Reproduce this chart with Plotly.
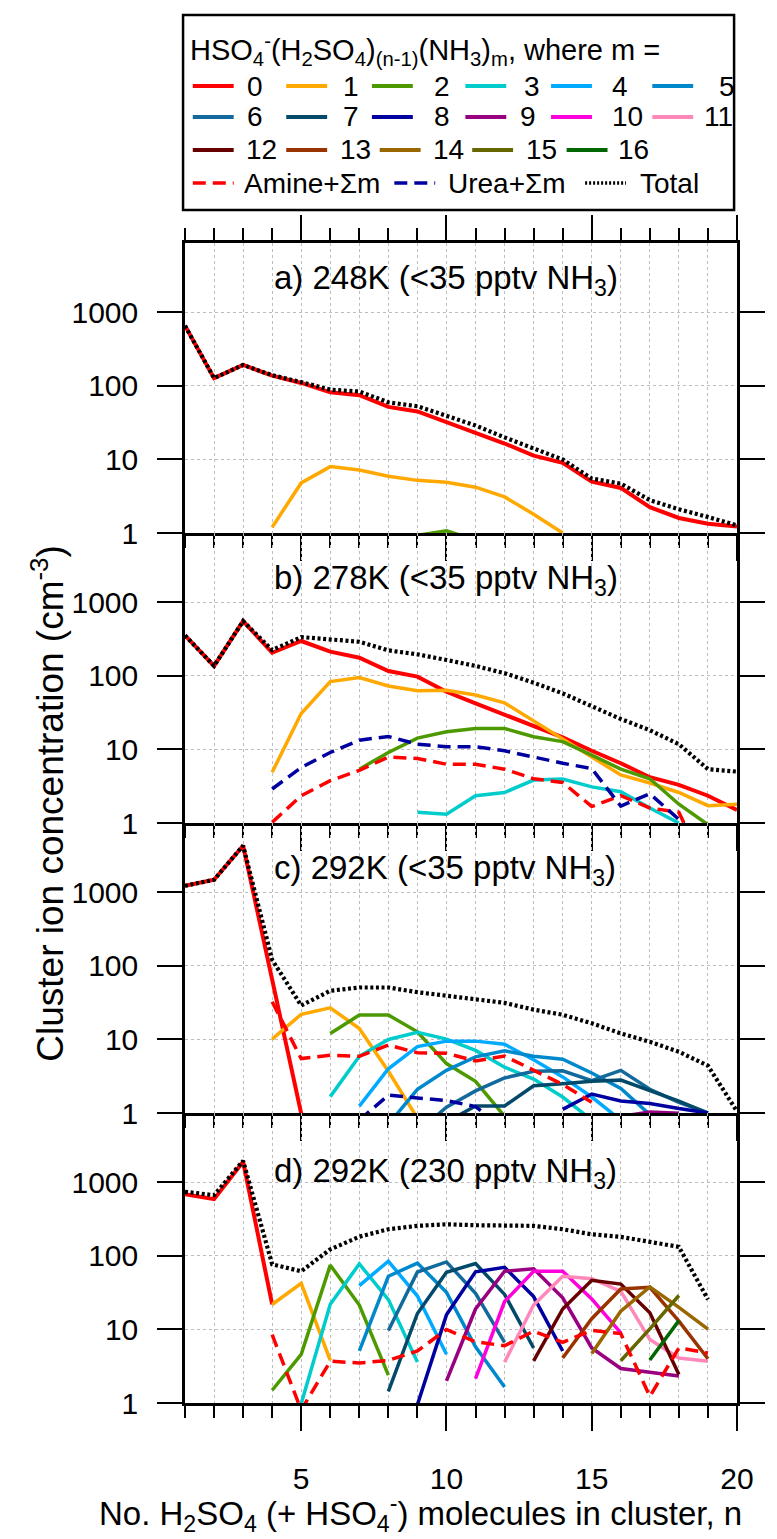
import plotly.graph_objects as go
from plotly.subplots import make_subplots

# ---------------- data ----------------
N_MAX = 20
X_TICKS = [5, 10, 15, 20]
Y_TICKS = [1, 10, 100, 1000]
Y_TICK_TEXT = ["1", "10", "100", "1000"]

PANEL_TITLES = [
    "a) 248K (&lt;35 pptv NH<sub>3</sub>)",
    "b) 278K (&lt;35 pptv NH<sub>3</sub>)",
    "c) 292K (&lt;35 pptv NH<sub>3</sub>)",
    "d) 292K (230 pptv NH<sub>3</sub>)",
]

M_COLORS = ["#FF0000", "#FFA800", "#4C9A00", "#00CCCC", "#00AAFF", "#0088CC",
            "#116A9B", "#034A6A", "#0000A0", "#990080", "#FF00DD", "#FF88BB",
            "#660000", "#993300", "#996600", "#666600", "#006600"]
AMINE_COLOR = "#FF0000"
UREA_COLOR = "#0000A0"
TOTAL_COLOR = "#000000"

# each series: (first n, values for n, n+1, ...)
# panel a
A_TOTAL = (1, [660, 128, 193, 140, 113, 89, 84, 60, 53, 39, 29, 20, 14, 10, 5.5, 4.7, 2.8, 2.1, 1.65, 1.27])
A_M0 = (1, [660, 128, 193, 138, 110, 82, 75, 52, 45, 32, 23.5, 16.5, 11.3, 9.0, 5.0, 4.1, 2.25, 1.6, 1.34, 1.23])
A_M1 = (4, [1.2, 4.8, 8.0, 7.2, 5.9, 5.2, 4.9, 4.2, 3.1, 1.8, 1.0])
A_M2 = (9, [0.93, 1.07, 0.8])

# panel b
B_TOTAL = (1, [356, 137, 558, 225, 338, 315, 292, 223, 197, 165, 137, 109, 81, 58, 39, 26, 18.3, 11.8, 5.4, 5.0])
B_M0 = (1, [356, 137, 558, 207, 299, 214, 177, 117, 98, 61, 42.5, 30, 21, 14.6, 9.6, 6.5, 4.2, 3.3, 2.35, 1.5])
B_M1 = (4, [4.9, 30.8, 84, 95, 73, 63, 64, 55, 43, 24.5, 13.8, 7.8, 4.5, 3.5, 2.6, 1.72, 1.8])
B_M2 = (7, [5.4, 9.1, 14.3, 17.4, 19.3, 19.3, 14.9, 12.8, 8.4, 5.4, 4.0, 1.8, 0.95])
B_M3 = (9, [1.4, 1.32, 2.35, 2.6, 3.84, 3.96, 3.1, 2.66, 1.6, 1.0])
B_AMINE = (4, [1.02, 2.35, 3.76, 5.2, 7.9, 7.55, 6.3, 6.3, 5.4, 4.0, 3.56, 1.68, 2.35, 1.6, 1.4, 0.2])
B_UREA = (4, [2.9, 5.7, 9.1, 13.4, 15.0, 11.8, 10.9, 10.9, 9.6, 7.8, 6.5, 5.5, 1.7, 2.5, 1.15, 0.5])

# panel c
C_TOTAL = (1, [1232, 1489, 4330, 121, 29, 46, 51, 51, 44, 39, 35, 31.5, 25.5, 21.7, 16.6, 12.1, 9.3, 6.8, 4.4, 1.05])
C_M0 = (1, [1232, 1489, 4330, 70, 0.98])
C_M1 = (4, [10.1, 22, 27, 14.1, 3.7, 0.85])
C_M2 = (6, [12.1, 21.5, 21.5, 12.7, 4.7, 2.7, 0.9])
C_M3 = (6, [1.67, 5.9, 10, 12.5, 10.1, 7.1, 4.2, 2.9, 1.65, 0.8])
C_M4 = (7, [1.24, 4.0, 8.0, 9.5, 9.5, 8.6, 5.3, 3.1, 1.65, 0.8])
C_M5 = (8, [0.7, 2.1, 3.8, 5.8, 7.0, 5.9, 5.4, 3.5, 2.15, 0.95])
C_M6 = (9, [0.55, 1.2, 2.0, 3.0, 3.7, 3.75, 2.75, 3.8, 2.1, 1.4, 1.0])
C_M7 = (10, [0.75, 1.25, 1.25, 2.35, 2.5, 2.7, 2.8, 2.0, 1.45, 1.0])
C_M8 = (14, [1.12, 1.81, 1.46, 1.35, 1.15, 1.0])
C_M9 = (16, [0.9, 1.03, 0.99])
C_AMINE = (4, [32.6, 5.5, 6.1, 5.9, 8.4, 6.6, 6.5, 5.1, 5.95, 3.8, 2.45, 1.4])
C_UREA = (7, [0.8, 1.75, 1.6, 1.48, 1.22, 0.6])

# panel d
D_TOTAL = (1, [746, 672, 1974, 77, 62, 123, 183, 231, 257, 270, 262, 262, 257, 231, 197, 182, 155, 133, 25.6])
D_M0 = (1, [692, 593, 1914, 21.9])
D_M1 = (4, [21.9, 42.4, 3.8])
D_M2 = (4, [1.49, 4.6, 75, 21.5, 2.4])
D_M3 = (5, [0.98, 22, 78, 25.5, 3.6])
D_M4 = (7, [39.5, 85, 28.5, 4.6])
D_M5 = (7, [5.1, 53, 80, 32, 5.8, 1.65])
D_M6 = (8, [9.7, 60.5, 83, 31, 6.7])
D_M7 = (8, [1.44, 16.5, 60, 79, 30, 5.6])
D_M8 = (9, [0.95, 15.8, 61, 70, 28, 5.1])
D_M9 = (10, [2.0, 19, 62, 67, 27, 5.6, 2.95, 2.6, 2.33])
D_M10 = (11, [2.15, 24, 62, 62, 26, 9.0])
D_M11 = (12, [3.6, 21.5, 53, 49, 33, 7.3, 4.1, 3.7])
D_M12 = (13, [3.75, 19, 46.6, 41.5, 16.9, 2.45])
D_M13 = (14, [4.1, 14, 35.5, 37.5, 13, 4.0])
D_M14 = (15, [4.7, 17.7, 38, 20, 10.1])
D_M15 = (16, [3.75, 10.2, 29])
D_M16 = (17, [3.85, 13.2])
D_AMINE = (4, [8.5, 0.8, 3.7, 3.5, 3.8, 5.1, 10, 6.8, 6.0, 9.5, 6.7, 9.7, 8.8, 1.23, 5.6, 4.8])

PANELS = [
    {"m": [A_M0, A_M1, A_M2], "amine": None, "urea": None, "total": A_TOTAL},
    {"m": [B_M0, B_M1, B_M2, B_M3], "amine": B_AMINE, "urea": B_UREA, "total": B_TOTAL},
    {"m": [C_M0, C_M1, C_M2, C_M3, C_M4, C_M5, C_M6, C_M7, C_M8, C_M9],
     "amine": C_AMINE, "urea": C_UREA, "total": C_TOTAL},
    {"m": [D_M0, D_M1, D_M2, D_M3, D_M4, D_M5, D_M6, D_M7, D_M8, D_M9, D_M10,
           D_M11, D_M12, D_M13, D_M14, D_M15, D_M16],
     "amine": D_AMINE, "urea": None, "total": D_TOTAL},
]

# ---------------- styling / layout ----------------
W, H = 777, 1539
L, R, T, B = 185, 25, 243, 136
FONT = "Liberation Sans, Arial, sans-serif"
GRID = "#bdbdbd"
DOT = "3px,2.6px"
DASH = "13px,7px"
Y_RANGE = [0, 3.945]


def xp(px):
    return (px - L) / (W - L - R)


def yp(py):
    return (H - B - py) / (H - T - B)


fig = make_subplots(rows=4, cols=1, vertical_spacing=0)


def add_line(series, row, color, dash="solid", width=3.5):
    start, vals = series
    xs = list(range(start, start + len(vals)))
    fig.add_trace(go.Scatter(x=xs, y=vals, mode="lines",
                             line=dict(color=color, width=width, dash=dash),
                             showlegend=False, hoverinfo="skip"),
                  row=row, col=1)


for i, p in enumerate(PANELS):
    row = i + 1
    for m, s in enumerate(p["m"]):
        add_line(s, row, M_COLORS[m], width=4 if m == 0 else 3.5)
    if p["amine"] is not None:
        add_line(p["amine"], row, AMINE_COLOR, DASH, 3.5)
    if p["urea"] is not None:
        add_line(p["urea"], row, UREA_COLOR, DASH, 3.5)
    add_line(p["total"], row, TOTAL_COLOR, DOT, 4.2)

domains = [[0.75, 1.0], [0.5, 0.75], [0.25, 0.5], [0.0, 0.25]]
for i in range(4):
    row = i + 1
    fig.update_xaxes(
        row=row, col=1, range=[1, N_MAX], tickmode="array", tickvals=X_TICKS,
        ticks="outside", ticklen=25, tickwidth=2, tickcolor="black",
        showline=True, linewidth=2.5, linecolor="black",
        mirror="ticks" if i == 0 else False,
        showgrid=True, gridcolor=GRID, griddash="dot", gridwidth=1,
        zeroline=False, showticklabels=(i == 3), ticklabelstandoff=22,
        tickfont=dict(family=FONT, size=30, color="black"),
        minor=dict(tickmode="array", tickvals=list(range(1, N_MAX + 1)),
                   ticks="outside", ticklen=12, tickwidth=2, tickcolor="black",
                   showgrid=True, gridcolor=GRID, griddash="dot", gridwidth=1),
    )
    fig.update_yaxes(
        row=row, col=1, type="log", range=Y_RANGE, domain=domains[i],
        tickmode="array", tickvals=Y_TICKS, ticktext=Y_TICK_TEXT,
        ticks="outside", ticklen=25, tickwidth=2, tickcolor="black",
        showline=True, linewidth=2.5, linecolor="black", mirror="ticks",
        showgrid=True, gridcolor=GRID, griddash="dot", gridwidth=1,
        zeroline=False, ticklabelstandoff=13,
        tickfont=dict(family=FONT, size=30, color="black"),
    )

annotations = []
shapes = []

# panel titles
title_y = [280, 580, 870, 1173]
for i, t in enumerate(PANEL_TITLES):
    annotations.append(dict(text=t, x=xp(274), y=yp(title_y[i]), xref="paper", yref="paper",
                            xanchor="left", yanchor="middle", showarrow=False,
                            font=dict(family=FONT, size=33, color="black")))

# axis titles
annotations.append(dict(
    text="No. H<sub>2</sub>SO<sub>4</sub> (+ HSO<sub>4</sub><sup>-</sup>) molecules in cluster, n",
    x=xp(427), y=yp(1513), xref="paper", yref="paper", xanchor="center", yanchor="middle",
    showarrow=False, font=dict(family=FONT, size=33, color="black")))
annotations.append(dict(
    text="Cluster ion concentration (cm<sup>-3</sup>)",
    x=xp(44), y=yp(803), xref="paper", yref="paper", xanchor="center", yanchor="middle",
    textangle=-90, showarrow=False, font=dict(family=FONT, size=37, color="black")))

# legend box (drawn by hand to reproduce the reference layout)
shapes.append(dict(type="rect", xref="paper", yref="paper", x0=xp(183), x1=xp(749),
                   y0=yp(15), y1=yp(210), line=dict(color="black", width=2.5),
                   fillcolor="white", layer="above"))
annotations.append(dict(
    text="HSO<sub>4</sub><sup>-</sup>(H<sub>2</sub>SO<sub>4</sub>)<sub>(n-1)</sub>(NH<sub>3</sub>)<sub>m</sub>, where m =",
    x=xp(188), y=yp(50), xref="paper", yref="paper", xanchor="left", yanchor="middle",
    showarrow=False, font=dict(family=FONT, size=29, color="black")))

LEG_ROWS_Y = [86, 117, 150, 183]
LEG_SAMPLE_X = [[193, 289, 377, 473, 561, 665],
                [193, 289, 377, 473, 561, 665],
                [193, 289, 385, 480, 577]]
LEG_LABEL_X = [[247, 345, 439, 531, 622, 731],
               [247, 345, 439, 527, 622, 716],
               [246, 342, 438, 533, 628]]
SAMPLE_LEN = 42
m = 0
for r in range(3):
    for k, sx in enumerate(LEG_SAMPLE_X[r]):
        yy = yp(LEG_ROWS_Y[r])
        shapes.append(dict(type="line", xref="paper", yref="paper", x0=xp(sx), x1=xp(sx + SAMPLE_LEN),
                           y0=yy, y1=yy, line=dict(color=M_COLORS[m], width=4), layer="above"))
        annotations.append(dict(text=str(m), x=xp(LEG_LABEL_X[r][k]), y=yy, xref="paper", yref="paper",
                                xanchor="left", yanchor="middle", showarrow=False,
                                font=dict(family=FONT, size=28, color="black")))
        m += 1

last_row = [("Amine+Σm", AMINE_COLOR, DASH, 193, 244),
            ("Urea+Σm", UREA_COLOR, DASH, 400, 453),
            ("Total", TOTAL_COLOR, "2px,2px", 596, 650)]
for label, col, dsh, sx, lx in last_row:
    yy = yp(LEG_ROWS_Y[3])
    shapes.append(dict(type="line", xref="paper", yref="paper", x0=xp(sx), x1=xp(sx + SAMPLE_LEN),
                       y0=yy, y1=yy, line=dict(color=col, width=3.5, dash=dsh), layer="above"))
    annotations.append(dict(text=label, x=xp(lx), y=yy, xref="paper", yref="paper",
                            xanchor="left", yanchor="middle", showarrow=False,
                            font=dict(family=FONT, size=28, color="black")))

fig.update_layout(
    width=W, height=H, autosize=False,
    margin=dict(l=L, r=R, t=T, b=B, pad=0),
    paper_bgcolor="white", plot_bgcolor="white",
    showlegend=False,
    font=dict(family=FONT, color="black"),
    annotations=annotations, shapes=shapes,
)

fig.write_html("out.html")
